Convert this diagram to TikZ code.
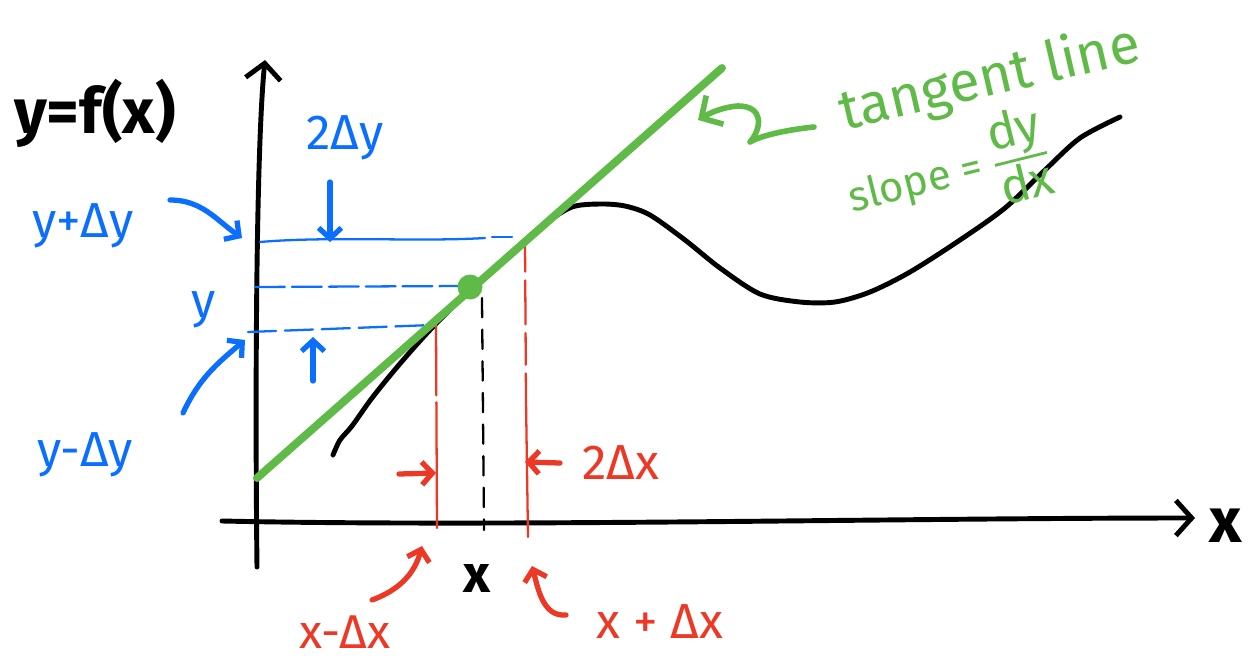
\documentclass[tikz,border=0pt]{standalone}
\usepackage{fontspec}
\setmainfont{Fira Sans}
\usetikzlibrary{arrows.meta}
\definecolor{hblue}{RGB}{10,110,255}
\definecolor{hred}{RGB}{236,56,36}
\definecolor{hgreen}{RGB}{96,186,72}
\begin{document}
\begin{tikzpicture}[x=0.02cm,y=-0.02cm,line cap=round,line join=round,
  axisline/.style={line width=2.8pt,-{Straight Barb[length=9pt,width=20pt]}},
  curveline/.style={line width=2.8pt},
  tangentline/.style={hgreen,line width=4.5pt},
  thickarrow/.style={line width=3pt,-{Straight Barb[length=6pt,width=13pt]}},
  bigarrow/.style={line width=3.2pt,-{Straight Barb[length=9pt,width=19pt]}},
  bline/.style={hblue,line width=1.3pt},
  rline/.style={hred,line width=1.3pt},
  kline/.style={line width=1.3pt,dash pattern=on 11pt off 7pt},
  lbl/.style={inner sep=0pt,font=\fontsize{28}{30}\selectfont},
  bigl/.style={inner sep=0pt,font=\fontsize{36}{38}\selectfont\bfseries},
]
\useasboundingbox (0,0) rectangle (1249,660);

% axes
\coordinate (yaxb) at (257,567);
\coordinate (yaxt) at (265,60);
\draw[axisline] (yaxb) .. controls (255,400) and (256,150) .. (yaxt);
\coordinate (xaxl) at (222,521);
\coordinate (xaxr) at (1195,518);
\draw[axisline] (xaxl) .. controls (500,527) and (900,518) .. (xaxr);

% function curve
\draw[curveline] plot[smooth,tension=0.5] coordinates {(333,455) (340,440) (352,426) (372,398) (398,366) (430,330) (470,290) (510,255) (545,224) (572,207) (600,204) (625,206) (650,215) (685,240) (720,268) (760,294) (800,302) (835,302) (870,292) (910,272) (960,240) (1005,208) (1045,170) (1080,138) (1120,117)};

% blue level lines
\coordinate (b1a) at (260,242); \coordinate (b1b) at (485,238);
\coordinate (b1c) at (492,237); \coordinate (b1d) at (512,237);
\draw[bline] (b1a) .. controls (330,236) and (420,242) .. (b1b);
\draw[bline] (b1c) -- (b1d);
\coordinate (b2a) at (255,287); \coordinate (b2b) at (462,286);
\draw[bline,dash pattern=on 17pt off 4pt] (b2a) -- (b2b);
\coordinate (b3a) at (248,332); \coordinate (b3b) at (432,325);
\draw[bline,dash pattern=on 16pt off 5pt] (b3a) -- (b3b);

% red vertical lines
\coordinate (r1a) at (436,325); \coordinate (r1b) at (437,528);
\draw[rline,dash pattern=on 40pt off 4pt on 300pt off 1pt] (r1a) -- (r1b);
\coordinate (r2a) at (525,240); \coordinate (r2m) at (526,400); \coordinate (r2b) at (528,537);
\draw[rline,dash pattern=on 18pt off 5pt on 25pt off 5pt] (r2a) -- (r2m);
\draw[rline] (r2m) -- (r2b);

% black dashed drop line
\coordinate (ka) at (482,298); \coordinate (kb) at (484,530);
\draw[kline] (ka) -- (kb);

% tangent line and point
\coordinate (tl1) at (257,478);
\coordinate (tl2) at (722,68);
\draw[tangentline] (tl1) -- (tl2);
\node[circle,fill=hgreen,inner sep=0pt,minimum size=0.5cm] (P) at (470,287) {};

% labels
\node[bigl] (fx) at (95,113) {y=f(x)};
\node[lbl,hblue] (ypd) at (83,226) {y+Δy};
\node[lbl,hblue] (ylab) at (204,310) {y};
\node[lbl,hblue] (ymd) at (85,455) {y-Δy};
\node[lbl,hblue] (tdy) at (345,138) {2Δy};
\node[lbl,hred] (tdx) at (621,463) {2Δx};
\node[lbl,hred,font=\fontsize{27}{28}\selectfont] (xmd) at (345,632) {x-Δx};
\node[lbl,hred] (xpd) at (660,622) {x + Δx};
\node[bigl,font=\fontsize{30}{32}\selectfont\bfseries] (xl) at (477,578) {x};
\node[bigl,font=\fontsize{36}{38}\selectfont\bfseries] (xax) at (1226,526) {x};
\node[lbl,hgreen,rotate=13,font=\fontsize{32}{34}\selectfont] (tan) at (990,80) {tangent line};
\node[lbl,hgreen,rotate=14,font=\fontsize{24}{26}\selectfont] (slope) at (948,172)
  {slope = ${\mbox{\fontsize{28}{28}\selectfont dy}\above 1.6pt \mbox{\fontsize{28}{28}\selectfont dx}}$};

% blue arrows
\coordinate (a1s) at (170,200); \coordinate (a1e) at (242,238);
\draw[thickarrow,hblue] (a1s) to[out=0,in=145] (a1e);
\coordinate (a2s) at (183,413); \coordinate (a2e) at (245,340);
\draw[thickarrow,hblue] (a2s) to[out=65,in=-140] (a2e);
\coordinate (a3s) at (330,182); \coordinate (a3e) at (330,242);
\draw[thickarrow,hblue] (a3s) -- (a3e);
\coordinate (a4s) at (313,381); \coordinate (a4e) at (313,337);
\draw[thickarrow,hblue] (a4s) -- (a4e);

% red arrows
\coordinate (c1s) at (399,474); \coordinate (c1e) at (436,473);
\draw[thickarrow,hred] (c1s) -- (c1e);
\coordinate (c2s) at (560,463); \coordinate (c2e) at (525,462);
\draw[thickarrow,hred] (c2s) -- (c2e);
\coordinate (c3s) at (372,600); \coordinate (c3e) at (422,546);
\draw[thickarrow,hred] (c3s) to[out=20,in=-105] (c3e);
\coordinate (c4s) at (566,615); \coordinate (c4e) at (532,566);
\draw[thickarrow,hred] (c4s) to[out=185,in=-75] (c4e);

% green arrow to tangent line
\coordinate (gs) at (814,127); \coordinate (ge) at (698,120);
\draw[bigarrow,hgreen] (gs) .. controls (785,130) and (760,136) .. (750,142)
  .. controls (762,128) and (764,106) .. (738,106)
  .. controls (722,107) and (708,114) .. (ge);
\end{tikzpicture}
\end{document}
